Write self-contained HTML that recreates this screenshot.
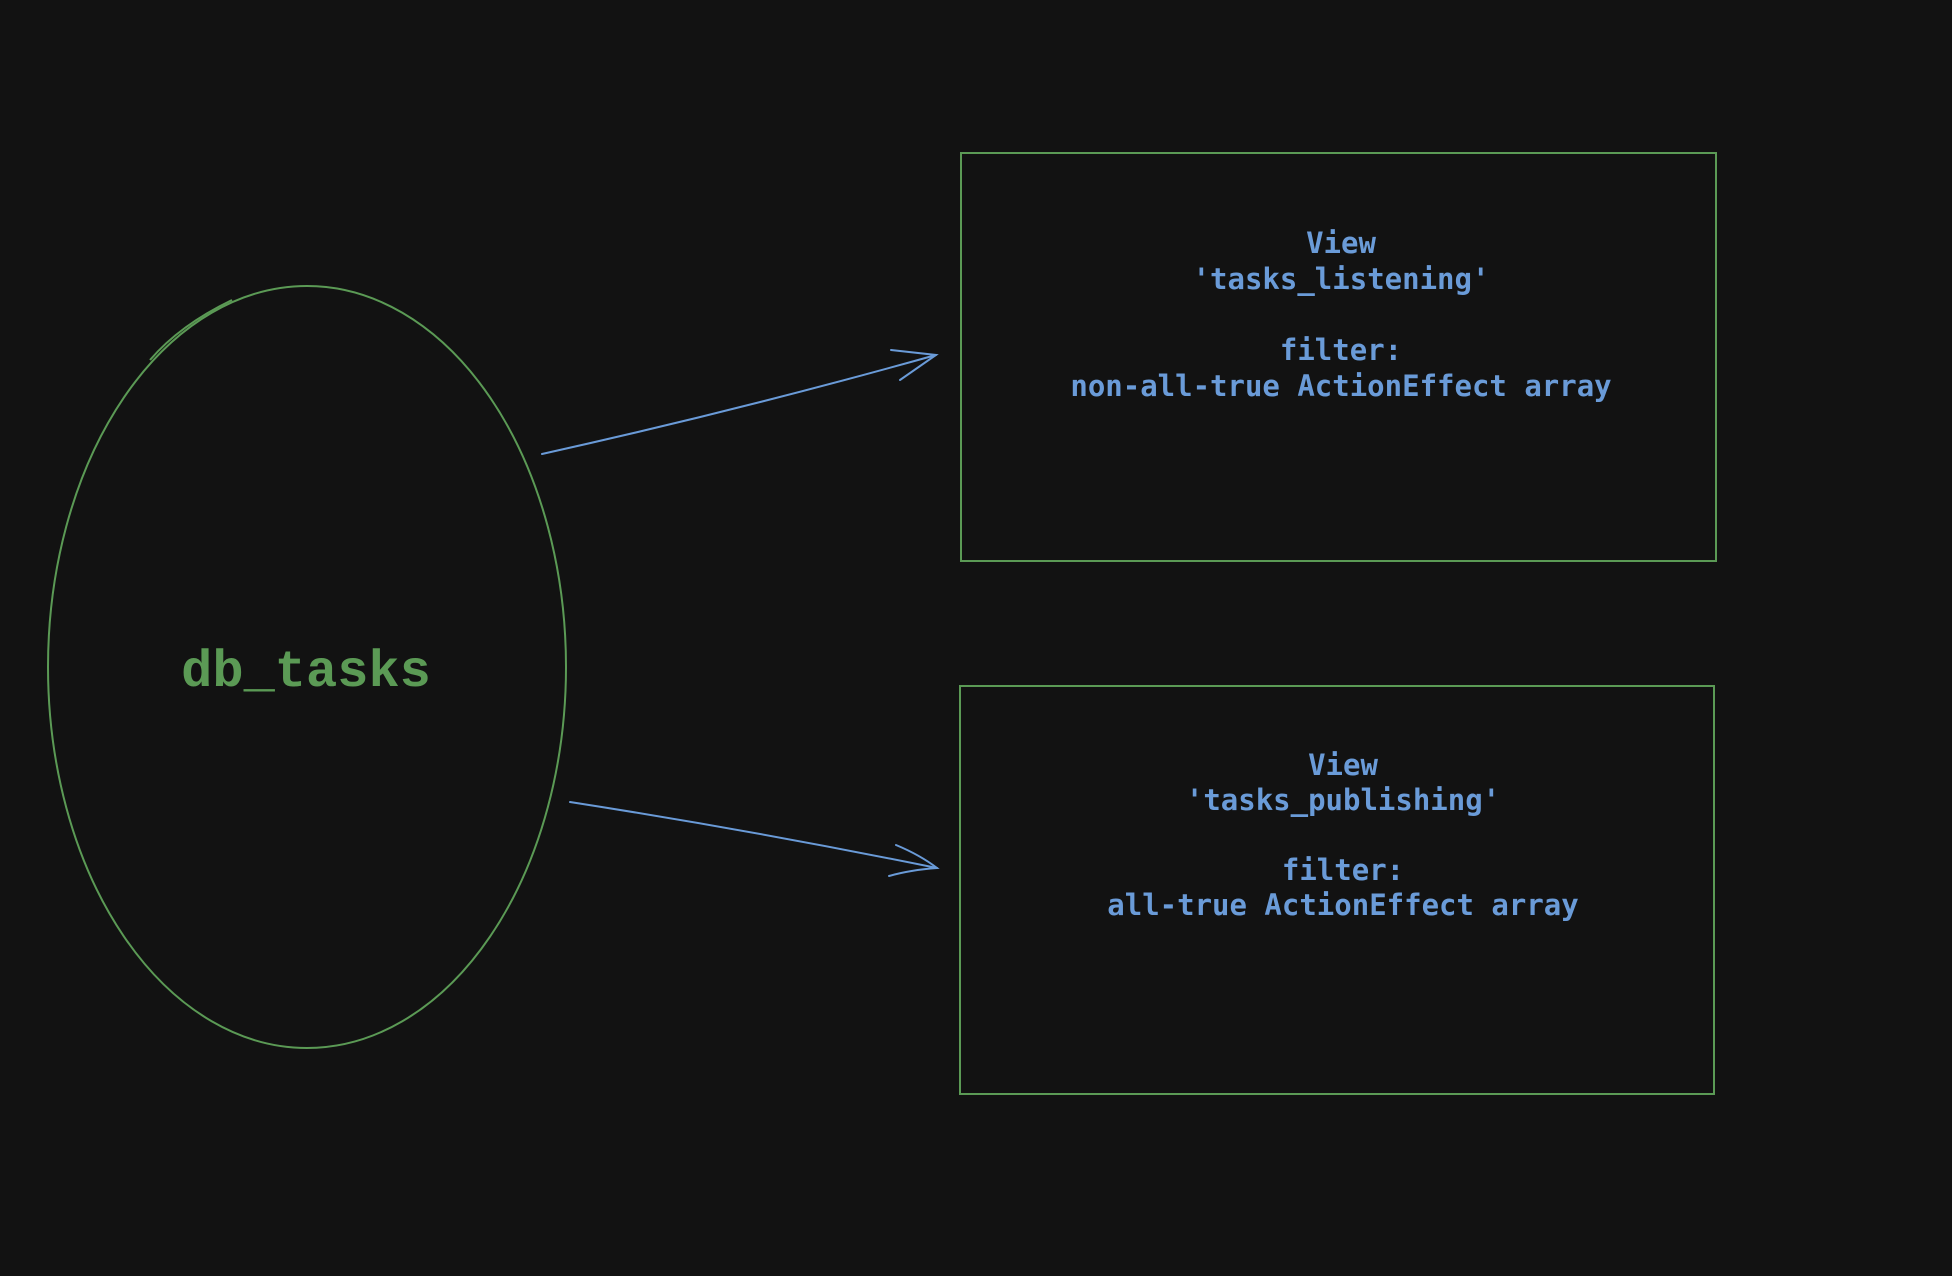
<!DOCTYPE html>
<html><head><meta charset="utf-8"><style>
html,body{margin:0;padding:0;background:#121212;}
svg{display:block;}
</style></head><body>
<svg width="1952" height="1276" viewBox="0 0 1952 1276" xmlns="http://www.w3.org/2000/svg">
<rect width="1952" height="1276" fill="#121212"/>
<g fill="none" stroke="#5b9a55" stroke-width="2">
<ellipse cx="307" cy="667" rx="259" ry="381"/>
<path d="M232 300 Q 180 325 150 360" />
<rect x="961" y="153" width="755" height="408"/>
<rect x="960" y="686" width="754" height="408"/>
</g>
<g fill="none" stroke="#6a9bd8" stroke-width="2" stroke-linecap="round">
<path d="M542 454 Q 740 410 936 355"/>
<path d="M891 350 L936 355 L900 380"/>
<path d="M570 802 Q 750 830 937 868"/>
<path d="M896 845 Q 920 855 937 868 Q 910 870 889 876"/>
</g>
<text x="306" y="686" text-anchor="middle" font-family="Liberation Mono, monospace" font-size="52" font-weight="bold" fill="#5b9a55">db_tasks</text>
<g font-family="DejaVu Sans Mono, Liberation Mono, monospace" font-size="29" font-weight="bold" fill="#6a9bd8" text-anchor="middle">
<text x="1341" y="253">View</text>
<text x="1341" y="289">'tasks_listening'</text>
<text x="1341" y="360">filter:</text>
<text x="1341" y="396">non-all-true ActionEffect array</text>
<text x="1343" y="775">View</text>
<text x="1343" y="810">'tasks_publishing'</text>
<text x="1343" y="880">filter:</text>
<text x="1343" y="915">all-true ActionEffect array</text>
</g>
</svg>
</body></html>
